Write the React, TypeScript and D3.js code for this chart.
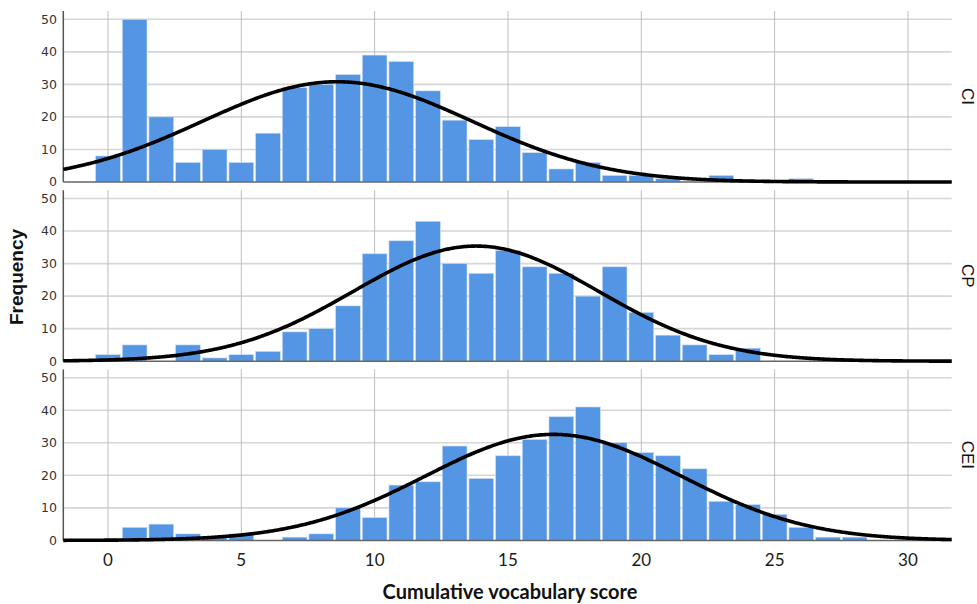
import React from "react";
import * as d3 from "d3";

const SCORES = [0, 1, 2, 3, 4, 5, 6, 7, 8, 9, 10, 11, 12, 13, 14, 15, 16, 17, 18, 19, 20, 21, 22, 23, 24, 25, 26, 27, 28];
const CI_COUNTS = [8, 50, 20, 6, 10, 6, 15, 29, 30, 33, 39, 37, 28, 19, 13, 17, 9, 4, 6, 2, 2, 1, 0, 2, 0, 0, 1, 0, 0];
const CP_COUNTS = [2, 5, 0, 5, 1, 2, 3, 9, 10, 17, 33, 37, 43, 30, 27, 34, 29, 27, 20, 29, 15, 8, 5, 2, 4, 0, 0, 0, 0];
const CEI_COUNTS = [0, 4, 5, 2, 1, 2, 0, 1, 2, 10, 7, 17, 18, 29, 19, 26, 31, 38, 41, 30, 27, 26, 22, 12, 11, 8, 4, 1, 1];
const GROUPS = ["CI", "CP", "CEI"];
const GROUP_MEANS = [8.6, 13.8, 16.7];
const GROUP_SDS = [5.05, 4.6, 4.8];
const GROUP_NS = [390, 408, 392];
const X_TICKS = [0, 5, 10, 15, 20, 25, 30];
const Y_TICKS = [0, 10, 20, 30, 40, 50];

const W = 977;
const H = 604;
const LEFT = 63.3;
const RIGHT = 951.7;
const TOP = 11;
const PANEL_H = 171;
const PANEL_STEP = 179.2;

export default function App() {
  const counts = [CI_COUNTS, CP_COUNTS, CEI_COUNTS];
  const x = d3.scaleLinear().domain([-1.675, 31.64]).range([LEFT, RIGHT]);
  const curveXs = d3.range(0, 401).map((i) => -1.675 + (i / 400) * (31.64 + 1.675));

  return (
    <svg
      width={W}
      height={H}
      style={{ position: "absolute", left: 0, top: 0, background: "#fff" }}
    >
      {GROUPS.map((g, gi) => {
        const top = TOP + gi * PANEL_STEP;
        const bottom = top + PANEL_H;
        const y = d3.scaleLinear().domain([0, (50 * PANEL_H) / 162.7]).range([bottom, top]);
        const mean = GROUP_MEANS[gi];
        const sd = GROUP_SDS[gi];
        const n = GROUP_NS[gi];
        const pdf = (v: number) =>
          (n / (sd * Math.sqrt(2 * Math.PI))) * Math.exp(-((v - mean) ** 2) / (2 * sd * sd));
        const line = d3
          .line<number>()
          .x((d) => x(d))
          .y((d) => y(pdf(d)))
          .curve(d3.curveBasis);
        return (
          <g key={g}>
            {Y_TICKS.filter((t) => t > 0).map((t) => (
              <line key={"h" + t} x1={LEFT} x2={RIGHT} y1={y(t)} y2={y(t)} stroke="#d6d6d6" strokeWidth={1.6} />
            ))}
            {X_TICKS.map((t) => (
              <line key={"v" + t} x1={x(t)} x2={x(t)} y1={top} y2={bottom} stroke="#bdbdbd" strokeWidth={1} />
            ))}
            {SCORES.map((s, i) =>
              counts[gi][i] > 0 ? (
                <rect
                  key={"b" + s}
                  x={x(s - 0.5) + 1}
                  width={x(s + 0.5) - x(s - 0.5) - 2}
                  y={y(counts[gi][i])}
                  height={y(0) - y(counts[gi][i])}
                  fill="#5495e4"
                  stroke="#c9dcf5"
                  strokeWidth={0.6}
                />
              ) : null
            )}
            <line x1={LEFT} x2={LEFT} y1={top} y2={bottom} stroke="#555" strokeWidth={1.5} />
            <line x1={LEFT} x2={RIGHT} y1={bottom} y2={bottom} stroke="#666" strokeWidth={1.5} />
            <path d={line(curveXs) || ""} fill="none" stroke="#000" strokeWidth={3.6} />
            {Y_TICKS.map((t) => (
              <text
                key={"yt" + t}
                x={57}
                y={y(t)}
                dy="0.35em"
                textAnchor="end"
                fontFamily="DejaVu Sans, sans-serif"
                fontSize={12.5}
                fill="#333"
              >
                {t}
              </text>
            ))}
            <text
              transform={`translate(${968},${(top + bottom) / 2}) rotate(90)`}
              textAnchor="middle"
              dy="0.35em"
              fontFamily="Liberation Sans, Arial, sans-serif"
              fontSize={17}
              fill="#111"
            >
              {g}
            </text>
          </g>
        );
      })}
      {X_TICKS.map((t) => (
        <text
          key={"xt" + t}
          x={x(t)}
          y={566}
          textAnchor="middle"
          fontFamily="Lato, sans-serif"
          fontSize={17}
          fill="#1a1a1a"
        >
          {t}
        </text>
      ))}
      <text
        x={510}
        y={599}
        textAnchor="middle"
        fontFamily="Lato, sans-serif"
        fontWeight="bold"
        fontSize={20}
        fill="#111"
      >
        Cumulative vocabulary score
      </text>
      <text
        transform={`translate(${23},${277}) rotate(-90)`}
        textAnchor="middle"
        fontFamily="Liberation Sans, Arial, sans-serif"
        fontWeight="bold"
        fontSize={19}
        fill="#111"
      >
        Frequency
      </text>
    </svg>
  );
}
